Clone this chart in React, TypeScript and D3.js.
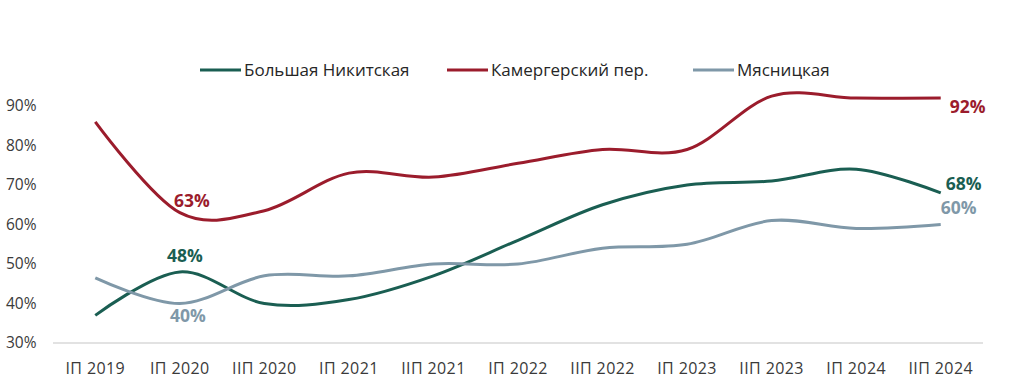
import React from "react";
import * as d3 from "d3";

const categories = ["IП 2019", "IП 2020", "IIП 2020", "IП 2021", "IIП 2021", "IП 2022", "IIП 2022", "IП 2023", "IIП 2023", "IП 2024", "IIП 2024"];
const nikitskaya = [37, 48, 40, 41, 47, 56, 65, 70, 71, 74, 68];
const kamergersky = [86, 63, 63.5, 73, 72, 75.5, 79, 79, 92.5, 92, 92];
const myasnitskaya = [46.5, 40, 47, 47, 50, 50, 54, 55, 61, 59, 60];
const yTicks = [30, 40, 50, 60, 70, 80, 90];

const seriesNames = ["Большая Никитская", "Камергерский пер.", "Мясницкая"];
const seriesColors = ["#1a5e52", "#9b1c2c", "#7f98a8"];

// labelled points: [seriesIndex, categoryIndex, dx, dy]
const labels: [number, number, number, number][] = [
  [1, 1, 12, -12],
  [0, 1, 5, -16],
  [2, 1, 8, 12],
  [1, 10, 27, 9],
  [0, 10, 23, -9],
  [2, 10, 18, -17],
];

export default function App() {
  const W = 1021, H = 381;
  const left = 53, right = 983, top = 106, bottom = 343;
  const x = d3.scaleBand<string>().domain(categories).range([left, right]);
  const y = d3.scaleLinear().domain([30, 90]).range([bottom, top]);
  const cx = (i: number) => (x(categories[i]) as number) + x.bandwidth() / 2;
  const line = d3
    .line<number>()
    .x((_, i) => cx(i))
    .y((d) => y(d))
    .curve(d3.curveCatmullRom.alpha(0));
  const series = [nikitskaya, kamergersky, myasnitskaya];
  const font = "'Segoe UI', 'Open Sans', 'Noto Sans', sans-serif";
  const legendX = [200, 447, 693];

  return (
    <svg width={W} height={H} style={{ position: "absolute", left: 0, top: 0, background: "#fff" }} fontFamily={font}>
      <line x1={left} x2={right} y1={bottom} y2={bottom} stroke="#d9d9d9" strokeWidth={1.5} />
      {yTicks.map((t) => (
        <text key={t} x={6} y={y(t)} dy="0.35em" fontSize={15.5} fill="#3a3a3a">
          {t}%
        </text>
      ))}
      {categories.map((c, i) => (
        <text key={c} x={cx(i)} y={374} textAnchor="middle" fontSize={16} letterSpacing={0.4} fill="#3a3a3a">
          {c}
        </text>
      ))}
      {series.map((s, k) => (
        <path key={k} d={line(s) || ""} fill="none" stroke={seriesColors[k]} strokeWidth={3} />
      ))}
      {labels.map(([k, i, dx, dy], j) => (
        <text
          key={j}
          x={cx(i) + dx}
          y={y(series[k][i]) + dy}
          dy="0.35em"
          textAnchor="middle"
          fontSize={17.5}
          fontWeight="bold"
          fill={seriesColors[k]}
        >
          {Math.round(series[k][i])}%
        </text>
      ))}
      {seriesNames.map((n, k) => (
        <g key={n} transform={`translate(${legendX[k]},70)`}>
          <line x1={0} x2={41} y1={0} y2={0} stroke={seriesColors[k]} strokeWidth={3} />
          <text x={44} y={0} dy="0.35em" fontSize={17} fill="#262626">
            {n}
          </text>
        </g>
      ))}
    </svg>
  );
}
